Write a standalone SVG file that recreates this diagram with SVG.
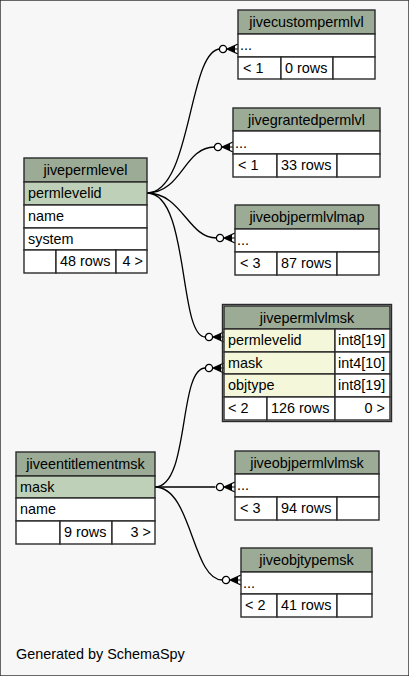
<svg xmlns="http://www.w3.org/2000/svg" xmlns:xlink="http://www.w3.org/1999/xlink" width="409" height="676" viewBox="0 0 409 676">
<style>
text{font-family:"Liberation Sans",Arial,sans-serif;font-size:14.4px;fill:#000}
.h{fill:#9bab96}
.k{fill:#bed1b8}
.w{fill:#ffffff}
.f{fill:#f4f7da}
rect{stroke:#2a2a2a;stroke-width:1.4}
.mid{text-anchor:middle}
.end{text-anchor:end}
.c path{fill:none;stroke:#000;stroke-width:1.3}
</style>
<defs>
<g id="crow">
<circle cx="-15" cy="0" r="3.6" fill="#fff" stroke="#000" stroke-width="1.3"/>
<path d="M-11,0 L0,-5 M-11,0 L0,0 M-11,0 L0,5" fill="none" stroke="#000" stroke-width="1.2"/>
<polygon points="-11,0 -3,-3.5 -3,3.5" fill="#000"/>
</g>
</defs>
<rect x="0" y="0" width="409" height="676" fill="#f7f7f7" stroke="none"/>

<g class="c" id="connectors">
<path d="M147,193 C192,193 188,49 220.4,49"/>
<path d="M147,193 C182,193 184,147 214.4,147"/>
<path d="M147,193 C182,193 188,238 216.4,238"/>
<path d="M147,193 C190,193 178,337 205.4,337"/>
<path d="M155,487 C190,487 178,368 205.4,368"/>
<path d="M155,487 L215.4,487"/>
<path d="M155,487 C192,487 192,580 222.4,580"/>
<use xlink:href="#crow" x="238" y="49"/>
<use xlink:href="#crow" x="233" y="147"/>
<use xlink:href="#crow" x="235" y="238"/>
<use xlink:href="#crow" x="224" y="337"/>
<use xlink:href="#crow" x="224" y="368"/>
<use xlink:href="#crow" x="235" y="487"/>
<use xlink:href="#crow" x="241" y="580"/>
</g>

<g id="jivecustompermlvl">
<rect class="h" x="238" y="10" width="137" height="24"/>
<text class="mid" x="306.5" y="27">jivecustompermlvl</text>
<rect class="w" x="238" y="34" width="137" height="23"/>
<text x="240" y="50">...</text>
<rect class="w" x="238" y="57" width="43" height="22"/>
<rect class="w" x="281" y="57" width="52" height="22"/>
<rect class="w" x="333" y="57" width="42" height="22"/>
<text x="243" y="72.5">&lt; 1</text>
<text x="285" y="72.5">0 rows</text>
</g>

<g id="jivegrantedpermlvl">
<rect class="h" x="233" y="108" width="147" height="23"/>
<text class="mid" x="306.5" y="124.5">jivegrantedpermlvl</text>
<rect class="w" x="233" y="131" width="147" height="23"/>
<text x="235" y="148">...</text>
<rect class="w" x="233" y="154" width="44" height="23"/>
<rect class="w" x="277" y="154" width="60" height="23"/>
<rect class="w" x="337" y="154" width="43" height="23"/>
<text x="238" y="170">&lt; 1</text>
<text x="281" y="170">33 rows</text>
</g>

<g id="jivepermlevel">
<rect class="h" x="24" y="158" width="123" height="24"/>
<text class="mid" x="85.5" y="175">jivepermlevel</text>
<rect class="k" x="24" y="182" width="123" height="23"/>
<text x="28" y="198">permlevelid</text>
<rect class="w" x="24" y="205" width="123" height="23"/>
<text x="28" y="221">name</text>
<rect class="w" x="24" y="228" width="123" height="22"/>
<text x="28" y="244">system</text>
<rect class="w" x="24" y="250" width="32" height="23"/>
<rect class="w" x="56" y="250" width="60" height="23"/>
<rect class="w" x="116" y="250" width="31" height="23"/>
<text x="60" y="266">48 rows</text>
<text class="end" x="143" y="266">4 &gt;</text>
</g>

<g id="jiveobjpermlvlmap">
<rect class="h" x="235" y="205" width="144" height="24"/>
<text class="mid" x="307" y="222">jiveobjpermlvlmap</text>
<rect class="w" x="235" y="229" width="144" height="23"/>
<text x="237" y="245">...</text>
<rect class="w" x="235" y="252" width="42" height="23"/>
<rect class="w" x="277" y="252" width="60" height="23"/>
<rect class="w" x="337" y="252" width="42" height="23"/>
<text x="240" y="268">&lt; 3</text>
<text x="281" y="268">87 rows</text>
</g>

<g id="jivepermlvlmsk">
<rect x="222.5" y="304.5" width="169" height="117" fill="none" stroke="#000" stroke-width="3"/>
<rect class="h" x="224" y="306" width="166" height="23"/>
<text class="mid" x="307" y="322.5">jivepermlvlmsk</text>
<rect class="f" x="224" y="329" width="111" height="23"/>
<rect class="w" x="335" y="329" width="55" height="23"/>
<text x="228" y="345">permlevelid</text>
<text x="338" y="345">int8[19]</text>
<rect class="f" x="224" y="352" width="111" height="22"/>
<rect class="w" x="335" y="352" width="55" height="22"/>
<text x="228" y="367.5">mask</text>
<text x="338" y="367.5">int4[10]</text>
<rect class="f" x="224" y="374" width="111" height="23"/>
<rect class="w" x="335" y="374" width="55" height="23"/>
<text x="228" y="390">objtype</text>
<text x="338" y="390">int8[19]</text>
<rect class="w" x="224" y="397" width="43" height="23"/>
<rect class="w" x="267" y="397" width="68" height="23"/>
<rect class="w" x="335" y="397" width="55" height="23"/>
<text x="228" y="412.5">&lt; 2</text>
<text x="271" y="412.5">126 rows</text>
<text class="end" x="385" y="412.5">0 &gt;</text>
</g>

<g id="jiveentitlementmsk">
<rect class="h" x="16" y="452" width="139" height="24"/>
<text class="mid" x="85.5" y="469">jiveentitlementmsk</text>
<rect class="k" x="16" y="476" width="139" height="22"/>
<text x="20" y="491.5">mask</text>
<rect class="w" x="16" y="498" width="139" height="23"/>
<text x="20" y="514">name</text>
<rect class="w" x="16" y="521" width="44" height="23"/>
<rect class="w" x="60" y="521" width="52" height="23"/>
<rect class="w" x="112" y="521" width="43" height="23"/>
<text x="64" y="537">9 rows</text>
<text class="end" x="151" y="537">3 &gt;</text>
</g>

<g id="jiveobjpermlvlmsk">
<rect class="h" x="235" y="451" width="144" height="23"/>
<text class="mid" x="307" y="467.5">jiveobjpermlvlmsk</text>
<rect class="w" x="235" y="474" width="144" height="23"/>
<text x="237" y="490">...</text>
<rect class="w" x="235" y="497" width="42" height="23"/>
<rect class="w" x="277" y="497" width="60" height="23"/>
<rect class="w" x="337" y="497" width="42" height="23"/>
<text x="240" y="513">&lt; 3</text>
<text x="281" y="513">94 rows</text>
</g>

<g id="jiveobjtypemsk">
<rect class="h" x="241" y="548" width="131" height="24"/>
<text class="mid" x="306.5" y="565">jiveobjtypemsk</text>
<rect class="w" x="241" y="572" width="131" height="22"/>
<text x="243" y="588">...</text>
<rect class="w" x="241" y="594" width="36" height="23"/>
<rect class="w" x="277" y="594" width="60" height="23"/>
<rect class="w" x="337" y="594" width="35" height="23"/>
<text x="245" y="610">&lt; 2</text>
<text x="281" y="610">41 rows</text>
</g>

<text x="16" y="659">Generated by SchemaSpy</text>
</svg>
